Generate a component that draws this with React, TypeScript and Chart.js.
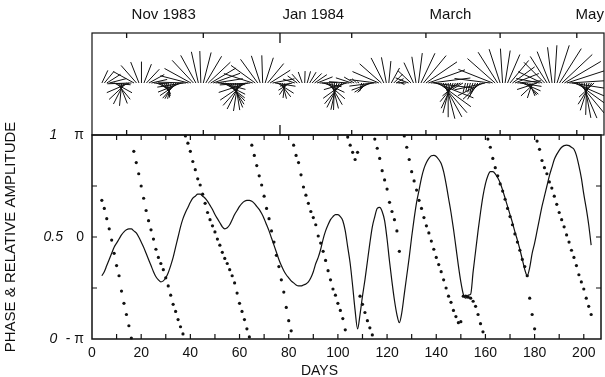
import React, { useEffect, useRef } from 'react';
import { Chart, registerables } from 'chart.js';

Chart.register(...registerables);
Chart.defaults.font.family = '"Liberation Sans", Arial, sans-serif';
Chart.defaults.color = '#111';

// ---- data ----
const days = [
  4, 5, 6, 7, 8, 9,
  10, 11, 12, 13, 14, 15, 16, 17, 18, 19,
  20, 21, 22, 23, 24, 25, 26, 27, 28, 29,
  30, 31, 32, 33, 34, 35, 36, 37, 38, 39,
  40, 41, 42, 43, 44, 45, 46, 47, 48, 49,
  50, 51, 52, 53, 54, 55, 56, 57, 58, 59,
  60, 61, 62, 63, 64, 65, 66, 67, 68, 69,
  70, 71, 72, 73, 74, 75, 76, 77, 78, 79,
  80, 81, 82, 83, 84, 85, 86, 87, 88, 89,
  90, 91, 92, 93, 94, 95, 96, 97, 98, 99,
  100, 101, 102, 103, 104, 105, 106, 107, 108, 109,
  110, 111, 112, 113, 114, 115, 116, 117, 118, 119,
  120, 121, 122, 123, 124, 125, 126, 127, 128, 129,
  130, 131, 132, 133, 134, 135, 136, 137, 138, 139,
  140, 141, 142, 143, 144, 145, 146, 147, 148, 149,
  150, 151, 152, 153, 154, 155, 156, 157, 158, 159,
  160, 161, 162, 163, 164, 165, 166, 167, 168, 169,
  170, 171, 172, 173, 174, 175, 176, 177, 178, 179,
  180, 181, 182, 183, 184, 185, 186, 187, 188, 189,
  190, 191, 192, 193, 194, 195, 196, 197, 198, 199,
  200, 201, 202, 203,
];

// relative amplitude (0..1)
const amplitude = [
  0.31, 0.33, 0.36, 0.39, 0.42, 0.45,
  0.47, 0.49, 0.51, 0.525, 0.535, 0.54, 0.54, 0.53, 0.52, 0.50,
  0.475, 0.45, 0.42, 0.39, 0.36, 0.33, 0.305, 0.29, 0.28, 0.285,
  0.30, 0.325, 0.36, 0.40, 0.45, 0.50, 0.55, 0.59, 0.62, 0.645,
  0.67, 0.69, 0.70, 0.71, 0.71, 0.70, 0.69, 0.675, 0.655, 0.635,
  0.61, 0.59, 0.57, 0.55, 0.54, 0.545, 0.56, 0.585, 0.61, 0.63,
  0.65, 0.665, 0.675, 0.68, 0.68, 0.675, 0.665, 0.65, 0.635, 0.615,
  0.59, 0.56, 0.53, 0.495, 0.46, 0.425, 0.39, 0.36, 0.335, 0.315,
  0.30, 0.285, 0.275, 0.265, 0.26, 0.26, 0.265, 0.27, 0.28, 0.30,
  0.33, 0.37, 0.40, 0.44, 0.49, 0.53, 0.56, 0.585, 0.60, 0.61,
  0.61, 0.60, 0.58, 0.53, 0.45, 0.37, 0.26, 0.14, 0.05, 0.12,
  0.21, 0.29, 0.38, 0.47, 0.55, 0.60, 0.64, 0.645, 0.625, 0.58,
  0.49, 0.38, 0.28, 0.19, 0.12, 0.08, 0.13, 0.22, 0.31, 0.40,
  0.50, 0.59, 0.67, 0.73, 0.79, 0.835, 0.865, 0.885, 0.898, 0.90,
  0.895, 0.88, 0.86, 0.82, 0.76, 0.69, 0.62, 0.54, 0.45, 0.36,
  0.28, 0.22, 0.20, 0.215, 0.22, 0.33, 0.43, 0.53, 0.62, 0.70,
  0.76, 0.80, 0.82, 0.82, 0.81, 0.79, 0.765, 0.73, 0.69, 0.65,
  0.61, 0.57, 0.525, 0.485, 0.44, 0.39, 0.34, 0.31, 0.35, 0.42,
  0.47, 0.53, 0.59, 0.65, 0.70, 0.75, 0.80, 0.84, 0.88, 0.905,
  0.925, 0.94, 0.948, 0.95, 0.948, 0.94, 0.93, 0.90, 0.85, 0.79,
  0.71, 0.64, 0.56, 0.46,
];

// phase in units of pi (-1..1); null = no sample
const phase = [
  0.36, 0.28, 0.18, 0.08, -0.03, -0.16,
  -0.28, -0.38, -0.53, -0.65, -0.76, -0.87, -0.99, 0.84, 0.73, 0.62,
  0.50, 0.38, 0.26, 0.16, 0.07, -0.02, -0.12, -0.20, -0.26, -0.32,
  -0.40, -0.48, -0.57, -0.66, -0.73, -0.81, -0.88, -0.95, 0.99, 0.92,
  0.84, 0.74, 0.66, 0.57, 0.51, 0.42, 0.33, 0.24, 0.17, 0.11,
  0.05, -0.02, -0.08, -0.15, -0.21, -0.26, -0.32, -0.38, -0.45, -0.55,
  -0.65, -0.73, -0.81, -0.90, -0.98, 0.90, 0.80, 0.70, 0.60, 0.51,
  0.40, 0.28, 0.18, 0.06, -0.05, -0.18, -0.29, -0.42, -0.54, -0.69,
  -0.82, -0.92, 0.90, 0.80, 0.73, 0.61, 0.49, 0.41, 0.33, 0.25,
  0.19, 0.12, 0.01, -0.06, -0.14, -0.23, -0.33, -0.42, -0.51, -0.57,
  -0.65, -0.72, -0.80, -0.91, 0.98, 0.90, 0.83, 0.76, 0.83, -0.58,
  -0.66, -0.74, -0.82, -0.89, -0.96, 0.96, 0.87, 0.77, 0.65, 0.56,
  0.47, 0.34, 0.25, 0.17, 0.06, -0.14, null, 0.99, 0.88, 0.76,
  0.64, 0.55, 0.46, 0.36, 0.28, 0.19, 0.11, 0.04, -0.04, -0.12,
  -0.20, -0.27, -0.34, -0.42, -0.50, -0.58, -0.64, -0.72, -0.78, -0.84,
  -0.83, -0.58, -0.58, -0.59, -0.60, -0.63, -0.68, -0.76, -0.85, -0.93,
  null, 0.96, 0.88, 0.77, 0.68, 0.60, 0.52, 0.45, 0.37, 0.28,
  0.20, 0.12, 0.03, -0.05, -0.13, -0.22, -0.29, -0.38, -0.60, -0.76,
  -0.90, 0.94, 0.86, 0.75, 0.68, 0.62, 0.54, 0.48, 0.40, 0.32,
  0.24, 0.17, 0.10, 0.02, -0.05, -0.13, -0.20, -0.28, -0.37, -0.44,
  -0.51, -0.60, -0.68, -0.76,
];

const xTickValues = [0, 20, 40, 60, 80, 100, 120, 140, 160, 180, 200];
const dayMinorTicks = [10, 20, 30, 40, 50, 60, 70, 80, 90, 100, 110, 120, 130, 140, 150, 160, 170, 180, 190, 200];
const ampTickValues = [0, 0.5, 1];
const ampTickLabels = ['0', '0.5', '1'];
const ampMinorTicks = [0.25, 0.5, 0.75];
const phaseTickValues = [-1, 0, 1];
const phaseTickLabels = ['- π', '0', 'π'];
const monthTickDays = [14, 45, 76, 105, 135, 165, 196];
const longMonthTickDay = 76;
const monthLabelDays = [16, 77, 136.5, 195.5];
const monthLabels = ['Nov 1983', 'Jan 1984', 'March', 'May'];
const xTitle = 'DAYS';
const xTitleDay = 92.5;
const yTitle = 'PHASE & RELATIVE AMPLITUDE';

const DAY_MAX = 207;
const INK = '#111';

const W = 605;
const H = 377;

const featherPlugin = {
  id: 'featherPlugin',
  afterDatasetsDraw(chart: any) {
    const { ctx, chartArea: a, scales } = chart;
    const x = scales.x;
    const y = scales.y;
    const y0 = y.getPixelForValue(0);
    const unit = y0 - y.getPixelForValue(1);
    ctx.save();
    ctx.beginPath();
    ctx.rect(a.left, a.top, a.right - a.left, a.bottom - a.top);
    ctx.clip();
    ctx.strokeStyle = INK;
    ctx.lineWidth = 1;
    ctx.beginPath();
    days.forEach((d, i) => {
      const ph = phase[i];
      if (ph === null) return;
      const th = ph * Math.PI;
      const bx = x.getPixelForValue(d);
      const A = amplitude[i];
      ctx.moveTo(bx, y0);
      ctx.lineTo(bx + unit * A * Math.cos(th), y0 - unit * A * Math.sin(th));
    });
    ctx.stroke();
    ctx.restore();

    ctx.save();
    ctx.strokeStyle = INK;
    ctx.lineWidth = 1.2;
    ctx.strokeRect(a.left, a.top, a.right - a.left, a.bottom - a.top);
    ctx.lineWidth = 1.3;
    ctx.beginPath();
    monthTickDays.forEach((d) => {
      const px = x.getPixelForValue(d);
      const len = d === longMonthTickDay ? 10 : 5;
      ctx.moveTo(px, a.top);
      ctx.lineTo(px, a.top + len);
      ctx.moveTo(px, a.bottom);
      ctx.lineTo(px, a.bottom - len);
    });
    ctx.stroke();
    ctx.fillStyle = INK;
    ctx.font = '15px "Liberation Sans", Arial, sans-serif';
    ctx.textAlign = 'left';
    ctx.textBaseline = 'middle';
    monthLabels.forEach((t, i) => {
      ctx.fillText(t, x.getPixelForValue(monthLabelDays[i]), 15);
    });
    ctx.restore();
  },
};

const framePlugin = {
  id: 'framePlugin',
  afterDatasetsDraw(chart: any) {
    const { ctx, chartArea: a, scales } = chart;
    const x = scales.x;
    const y = scales.y;
    ctx.save();
    ctx.strokeStyle = INK;
    ctx.lineWidth = 1.5;
    ctx.strokeRect(a.left, a.top, a.right - a.left, a.bottom - a.top);
    ctx.lineWidth = 1.2;
    ctx.beginPath();
    dayMinorTicks.forEach((d) => {
      const px = x.getPixelForValue(d);
      ctx.moveTo(px, a.bottom);
      ctx.lineTo(px, a.bottom - 5);
      ctx.moveTo(px, a.top);
      ctx.lineTo(px, a.top + 5);
    });
    ampMinorTicks.forEach((v) => {
      const py = y.getPixelForValue(v);
      ctx.moveTo(a.left, py);
      ctx.lineTo(a.left + 5, py);
      ctx.moveTo(a.right, py);
      ctx.lineTo(a.right - 5, py);
    });
    ctx.stroke();
    ctx.fillStyle = INK;
    ctx.font = '14px "Liberation Sans", Arial, sans-serif';
    ctx.textAlign = 'center';
    ctx.textBaseline = 'middle';
    ctx.fillText(xTitle, x.getPixelForValue(xTitleDay), a.bottom + 32);
    ctx.restore();
  },
};

export default function App() {
  const topRef = useRef<HTMLCanvasElement | null>(null);
  const botRef = useRef<HTMLCanvasElement | null>(null);

  useEffect(() => {
    document.body.style.margin = '0';
    const top = new Chart(topRef.current as HTMLCanvasElement, {
      type: 'scatter',
      data: {
        datasets: [
          {
            data: days.map((d) => ({ x: d, y: 0 })),
            pointRadius: 0,
            showLine: false,
          },
        ],
      },
      options: {
        animation: false,
        responsive: false,
        devicePixelRatio: 1,
        events: [],
        layout: { padding: { left: 92, right: 1, top: 33, bottom: H - 135 } },
        plugins: { legend: { display: false }, tooltip: { enabled: false } },
        scales: {
          x: { type: 'linear', min: 0, max: DAY_MAX, display: false },
          y: { type: 'linear', min: -1.156, max: 1.111, display: false },
        },
      },
      plugins: [featherPlugin],
    } as any);

    const bottom = new Chart(botRef.current as HTMLCanvasElement, {
      type: 'scatter',
      data: {
        datasets: [
          {
            label: 'amplitude',
            data: days.map((d, i) => ({ x: d, y: amplitude[i] })),
            yAxisID: 'y',
            showLine: true,
            borderColor: INK,
            borderWidth: 1.2,
            pointRadius: 0,
            tension: 0.4,
            cubicInterpolationMode: 'monotone',
          },
          {
            label: 'phase',
            data: days
              .map((d, i) => ({ x: d, y: phase[i] }))
              .filter((p) => p.y !== null),
            yAxisID: 'yPhase',
            showLine: false,
            pointRadius: 1.6,
            pointBorderWidth: 0,
            pointBackgroundColor: INK,
            clip: false,
          },
        ],
      },
      options: {
        animation: false,
        responsive: false,
        devicePixelRatio: 1,
        events: [],
        layout: { padding: { left: 0, right: 1, top: 135, bottom: 0 } },
        plugins: { legend: { display: false }, tooltip: { enabled: false } },
        scales: {
          x: {
            type: 'linear',
            position: 'bottom',
            min: 0,
            max: DAY_MAX,
            grid: { display: false, drawTicks: false },
            border: { display: false },
            afterBuildTicks: (s: any) => {
              s.ticks = xTickValues.map((v) => ({ value: v }));
            },
            afterFit: (s: any) => {
              s.height = 38;
            },
            ticks: {
              autoSkip: false,
              maxRotation: 0,
              padding: 6,
              font: { size: 14 },
              color: INK,
              callback: (v: any) => String(v),
            },
          },
          y: {
            type: 'linear',
            position: 'left',
            weight: 2,
            min: 0,
            max: 1,
            grid: { display: false, drawTicks: false },
            border: { display: false },
            afterBuildTicks: (s: any) => {
              s.ticks = ampTickValues.map((v) => ({ value: v }));
            },
            afterFit: (s: any) => {
              s.width = 66;
            },
            ticks: {
              autoSkip: false,
              padding: 3,
              crossAlign: 'center',
              font: { size: 14, style: 'italic' },
              color: INK,
              callback: (_v: any, i: number) => ampTickLabels[i],
            },
            title: {
              display: true,
              text: yTitle,
              color: INK,
              font: { size: 15 },
              padding: { top: 2, bottom: 0 },
            },
          },
          yPhase: {
            type: 'linear',
            position: 'left',
            weight: 1,
            min: -1,
            max: 1,
            grid: { display: false, drawTicks: false },
            border: { display: false },
            afterBuildTicks: (s: any) => {
              s.ticks = phaseTickValues.map((v) => ({ value: v }));
            },
            afterFit: (s: any) => {
              s.width = 26;
            },
            ticks: {
              autoSkip: false,
              padding: 8,
              font: { size: 14 },
              color: INK,
              callback: (_v: any, i: number) => phaseTickLabels[i],
            },
          },
        },
      },
      plugins: [framePlugin],
    } as any);

    return () => {
      top.destroy();
      bottom.destroy();
    };
  }, []);

  return (
    <div style={{ position: 'relative', width: W, height: H, background: '#fff' }}>
      <canvas ref={botRef} width={W} height={H} style={{ position: 'absolute', left: 0, top: 0 }} />
      <canvas ref={topRef} width={W} height={H} style={{ position: 'absolute', left: 0, top: 0 }} />
    </div>
  );
}
